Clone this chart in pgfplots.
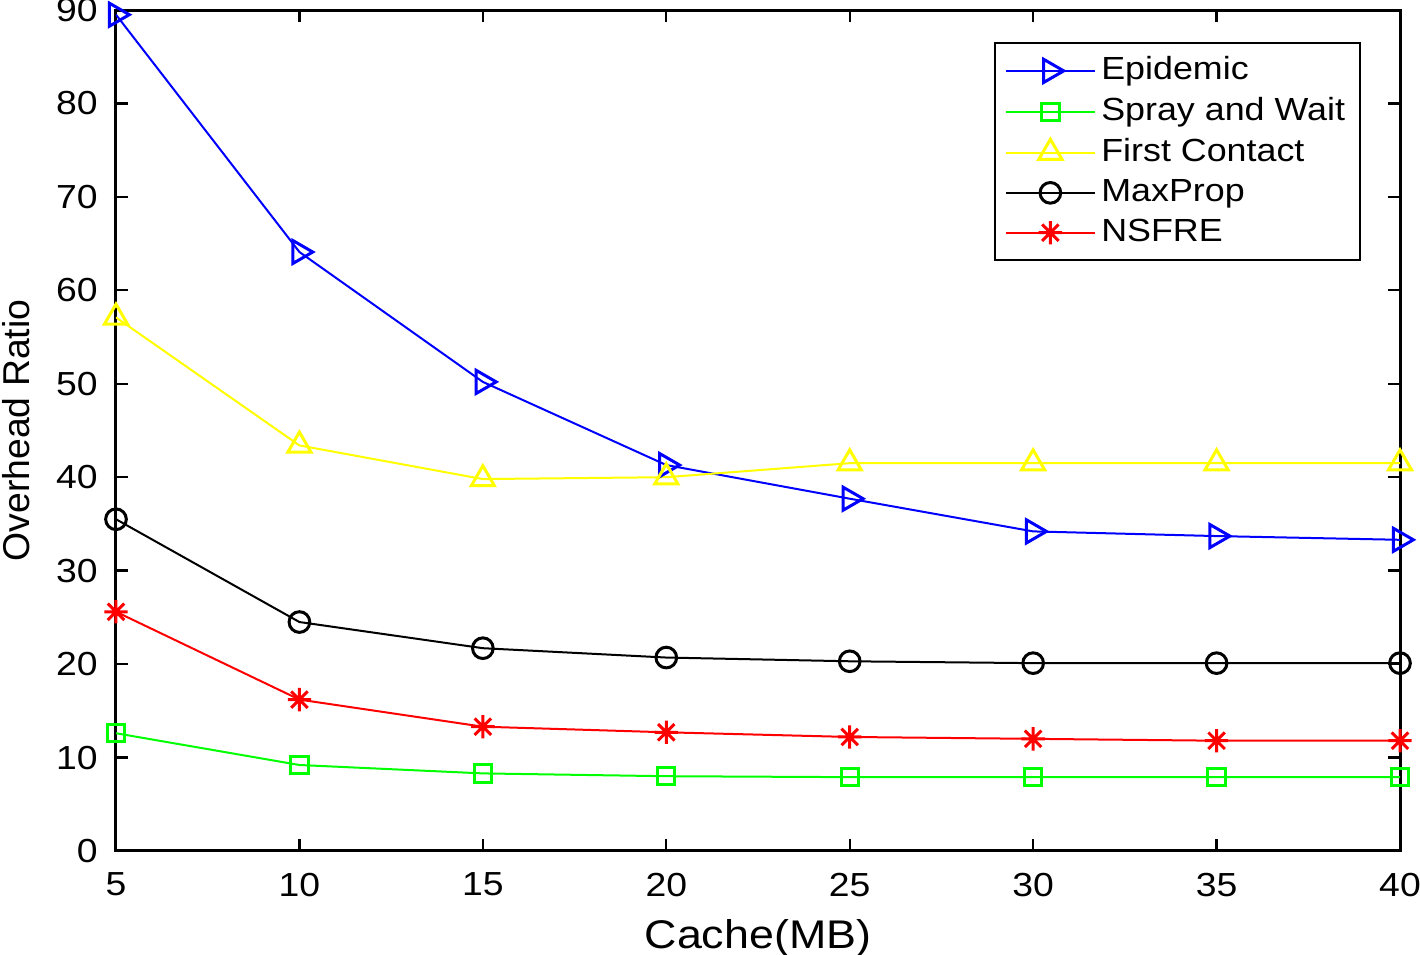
\documentclass[border=0pt]{standalone}
\usepackage{pgfplots}
\pgfplotsset{compat=1.18}
\usepackage{fontspec}
\setmainfont{Liberation Sans}[FakeStretch=1.12]
\newfontfamily\plainsans{Liberation Sans}
\pgfdeclareplotmark{mstar}{%
 \pgfpathmoveto{\pgfqpoint{0pt}{\pgfplotmarksize}}\pgfpathlineto{\pgfqpoint{0pt}{-\pgfplotmarksize}}%
 \pgfpathmoveto{\pgfqpoint{\pgfplotmarksize}{0pt}}\pgfpathlineto{\pgfqpoint{-\pgfplotmarksize}{0pt}}%
 \pgfpathmoveto{\pgfqpoint{.707\pgfplotmarksize}{.707\pgfplotmarksize}}\pgfpathlineto{\pgfqpoint{-.707\pgfplotmarksize}{-.707\pgfplotmarksize}}%
 \pgfpathmoveto{\pgfqpoint{-.707\pgfplotmarksize}{.707\pgfplotmarksize}}\pgfpathlineto{\pgfqpoint{.707\pgfplotmarksize}{-.707\pgfplotmarksize}}%
 \pgfusepathqstroke}
\definecolor{mblue}{RGB}{0,0,255}
\definecolor{mgreen}{RGB}{0,255,0}
\definecolor{myellow}{RGB}{255,255,0}
\definecolor{mred}{RGB}{255,0,0}
\begin{document}
\begin{tikzpicture}
\begin{axis}[
  scale only axis,
  width=385.2pt, height=252.3pt,
  xmin=5, xmax=40, ymin=0, ymax=90,
  xtick={5,10,...,40}, ytick={0,10,...,90},
  tick align=inside,
  major tick length=3.6pt,
  axis line style={line width=0.9pt},
  every tick/.style={black, line width=0.7pt},
  tick label style={font=\fontsize{10}{11}\selectfont},
  xticklabel style={yshift=-3pt},
  yticklabel style={xshift=-2pt},
  /pgf/number format/assume math mode=true,
  xlabel={Cache(MB)}, ylabel={\plainsans Overhead Ratio},
  label style={font=\fontsize{12}{14}\selectfont},
  xlabel style={yshift=0pt},
  ylabel style={font=\fontsize{11.2}{13}\selectfont, yshift=1pt},
  legend style={at={(0.97,0.962)}, anchor=north east, font=\fontsize{9.6}{11}\selectfont,
    draw=black, line width=0.7pt, row sep=0.6pt, inner xsep=3pt, inner ysep=2.5pt,
    nodes={inner sep=1.6pt}},
  legend cell align=left,
  legend image post style={line width=0.6pt},
  legend image code/.code={\draw[mark repeat=2,mark phase=2] plot coordinates {(0cm,0cm) (0.47cm,0cm) (0.94cm,0cm)};},
  every axis plot/.append style={line width=0.6pt},
]
\addplot[mblue, mark=triangle, mark size=4pt, mark options={rotate=-90, solid, line width=0.9pt}] coordinates {
(5,89.5) (10,64.1) (15,50.2) (20,41.3) (25,37.7) (30,34.2) (35,33.7) (40,33.3)};
\addlegendentry{Epidemic}
\addplot[mgreen, mark=square, mark size=2.6pt, mark options={line width=0.9pt}] coordinates {
(5,12.6) (10,9.2) (15,8.3) (20,8.0) (25,7.9) (30,7.9) (35,7.9) (40,7.9)};
\addlegendentry{Spray and Wait}
\addplot[myellow, mark=triangle, mark size=4pt, mark options={line width=0.9pt}] coordinates {
(5,57.1) (10,43.4) (15,39.8) (20,40.0) (25,41.5) (30,41.5) (35,41.5) (40,41.5)};
\addlegendentry{First Contact}
\addplot[black, mark=o, mark size=3.1pt, mark options={line width=0.9pt}] coordinates {
(5,35.5) (10,24.5) (15,21.7) (20,20.7) (25,20.3) (30,20.1) (35,20.1) (40,20.1)};
\addlegendentry{MaxProp}
\addplot[mred, mark=mstar, mark size=3.5pt, mark options={line width=0.9pt}] coordinates {
(5,25.6) (10,16.2) (15,13.3) (20,12.7) (25,12.2) (30,12.0) (35,11.8) (40,11.8)};
\addlegendentry{NSFRE}
\path (rel axis cs:0,0) coordinate (SW) (rel axis cs:1,1) coordinate (NE);
\end{axis}
\pgfresetboundingbox
\path[use as bounding box] ([shift={(-34.8pt,-31.2pt)}]SW) rectangle ([shift={(6pt,3pt)}]NE);
\end{tikzpicture}
\end{document}
